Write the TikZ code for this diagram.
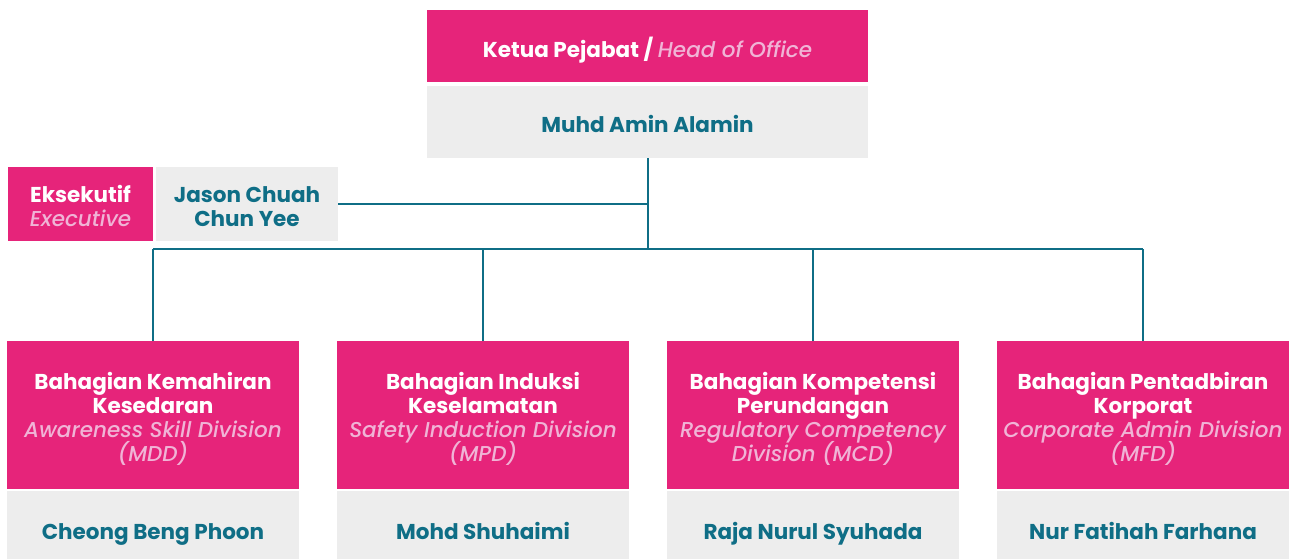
\documentclass[tikz,border=0pt]{standalone}
\usepackage{fontspec}
\setmainfont{Poppins}
\newfontface\engfont{Poppins Medium Italic}
\definecolor{pinkc}{HTML}{E6247A}
\definecolor{grayc}{HTML}{EDEDED}
\definecolor{tealc}{HTML}{0F6E86}
\definecolor{lightp}{HTML}{F0B4D6}
\newcommand{\engl}[1]{{\color{lightp}\engfont #1}}
\newcommand{\tstrut}[1]{\rule{0pt}{#1}}
\setlength{\lineskiplimit}{-30pt}
\begin{document}
\begin{tikzpicture}[x=1pt,y=-1pt,
  box/.style={inner sep=0pt, align=center, font=\bfseries\fontsize{21.5}{24}\selectfont},
  pinkbox/.style={box, fill=pinkc, text=white},
  graybox/.style={box, fill=grayc, text=tealc},
  conn/.style={draw=tealc, line width=2.5pt}]
\useasboundingbox (0,0) rectangle (1293,559);
\clip (0,0) rectangle (1293,559);
% head
\node[pinkbox, minimum width=441pt, minimum height=72pt, text height=28pt, text depth=4pt] (head) at (647.5,46) {Ketua Pejabat / \engl{Head of Office}};
\node[graybox, minimum width=441pt, minimum height=72pt, text height=26pt, text depth=4pt] (headname) at (647.5,122) {Muhd Amin Alamin};
% executive
\node[pinkbox, minimum width=145pt, minimum height=74pt] (exec) at (80.5,204) {\tstrut{22pt}Eksekutif\\\engl{Executive}};
\node[graybox, minimum width=182pt, minimum height=74pt] (execname) at (247,204) {\tstrut{22pt}Jason Chuah\\Chun Yee};
\coordinate (hub) at (648,249);
% divisions
\tikzset{divbox/.style={pinkbox, minimum width=292pt, minimum height=148pt}}
\node[divbox] (d1) at (153,415) {\tstrut{25pt}Bahagian Kemahiran\\Kesedaran\\\engl{Awareness Skill Division}\\\engl{(MDD)}};
\node[divbox] (d2) at (483,415) {\tstrut{25pt}Bahagian Induksi\\Keselamatan\\\engl{Safety Induction Division}\\\engl{(MPD)}};
\node[divbox] (d3) at (813,415) {\tstrut{25pt}Bahagian Kompetensi\\Perundangan\\\engl{Regulatory Competency}\\\engl{Division (MCD)}};
\node[divbox] (d4) at (1143,415) {\tstrut{25pt}Bahagian Pentadbiran\\Korporat\\\engl{Corporate Admin Division}\\\engl{(MFD)}};
\tikzset{namebox/.style={graybox, minimum width=292pt, minimum height=84pt, text height=16pt, text depth=4pt}}
\node[namebox] (n1) at (153,533) {Cheong Beng Phoon};
\node[namebox] (n2) at (483,533) {Mohd Shuhaimi};
\node[namebox] (n3) at (813,533) {Raja Nurul Syuhada};
\node[namebox] (n4) at (1143,533) {Nur Fatihah Farhana};
% connectors
\draw[conn] (headname.south -| hub) -- (hub);
\draw[conn] (execname.east) -- (execname.east -| hub);
\draw[conn] (d1.north |- hub) -- (d4.north |- hub);
\foreach \d in {d1,d2,d3,d4} \draw[conn] (\d.north) -- (\d.north |- hub);
\end{tikzpicture}
\end{document}
